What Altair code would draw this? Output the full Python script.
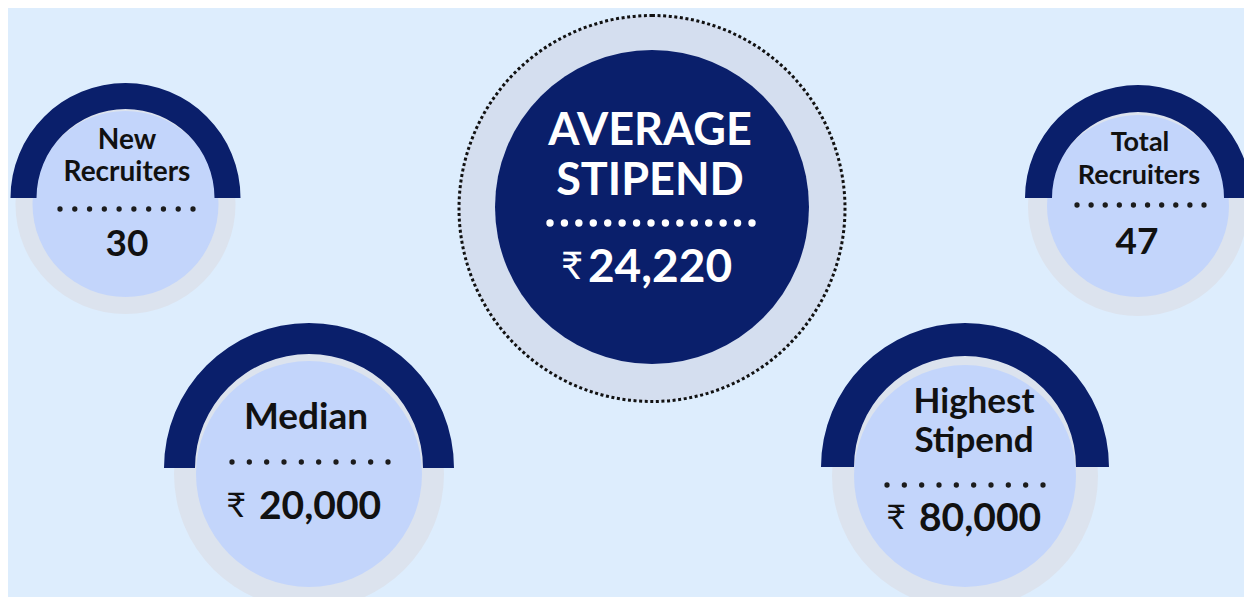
import math
import numpy as np
import pandas as pd
import altair as alt

# ---------------- data ----------------
card_titles = [["New", "Recruiters"], ["Median"], ["Highest", "Stipend"], ["Total", "Recruiters"]]
card_values = ["30", "20,000", "80,000", "47"]
card_currency = [False, True, True, False]
center_title = ["AVERAGE", "STIPEND"]
center_value = "24,220"
currency_symbol = "₹"

# ---------------- layout (pixel positions of the infographic) ----------------
W, H = 1252, 605
M = 8
NAVY = "#0a1f6b"
FILL = "#c3d5fb"
RING = "#dce3ee"
HALO = "#d4deef"
BG = "#ddedfd"
INK = "#111111"
FONT = "Lato, 'Noto Sans', 'DejaVu Sans', sans-serif"

# per card: arc centre (x, y), arc outer / inner radius, disk centre y, ring radius, fill radius
card_geo = [
    dict(cx=125.5, ay=198, ro=115, ri=89, dy=204, rg=110, rf=93),
    dict(cx=309, ay=468, ro=145, ri=114, dy=474, rg=135, rf=113),
    dict(cx=965, ay=467, ro=144, ri=111, dy=476, rg=133, rf=111),
    dict(cx=1138, ay=198, ro=113, ri=86, dy=206, rg=110, rf=91),
]
# title lines (x, y, size), dot rows (y, x0, x1), value (x, y, size), currency (right edge x)
card_title_pos = [
    [(127, 141, 28), (127, 173, 28)],
    [(306, 418, 37)],
    [(974, 402, 35), (974, 441, 35)],
    [(1140, 143, 27), (1139, 176, 27)],
]
card_dots = [(209, 60, 193), (462, 232, 388), (485, 887, 1043), (205, 1077, 1204)]
card_value_pos = [(127, 245, 37), (320, 507, 39), (980, 519, 39), (1137, 243, 37)]
card_cur_x = [None, 246, 906, None]

center = dict(cx=652, cy=207, r=157, halo_cy=208.5, halo_r=193)
center_title_pos = [(650, 131, 45), (650, 181, 45)]
center_dots = (223, 550, 752, 15)
center_value_pos = (660, 268, 46)
center_cur_x = 583

xs = alt.Scale(domain=[M, W - M], nice=False, zero=False)
ys = alt.Scale(domain=[H - M, M], nice=False, zero=False)
X = lambda: alt.X("x:Q", scale=xs, axis=None)
Y = lambda: alt.Y("y:Q", scale=ys, axis=None)

layers = []

def disk(x, y, r, color, **kw):
    d = pd.DataFrame({"x": [x], "y": [y]})
    return alt.Chart(d).mark_arc(radius=r, theta=0, theta2=2 * math.pi, fill=color, **kw).encode(x=X(), y=Y())

# centre halo with dotted edge
layers.append(disk(center["cx"], center["halo_cy"], center["halo_r"], HALO,
                   stroke="#111111", strokeWidth=3, strokeDash=[3, 2.6]))
layers.append(disk(center["cx"], center["cy"], center["r"], NAVY))

for g in card_geo:
    layers.append(disk(g["cx"], g["dy"], g["rg"], RING))
    layers.append(disk(g["cx"], g["dy"], g["rf"], FILL))
    d = pd.DataFrame({"x": [g["cx"]], "y": [g["ay"]]})
    layers.append(alt.Chart(d).mark_arc(radius=g["ro"], radius2=g["ri"],
                                        theta=1.5 * math.pi, theta2=2.5 * math.pi,
                                        fill=NAVY).encode(x=X(), y=Y()))

# dot rows
dot_rows = []
for (y, x0, x1) in card_dots:
    for x in np.linspace(x0, x1, 10):
        dot_rows.append({"x": x, "y": y})
layers.append(alt.Chart(pd.DataFrame(dot_rows)).mark_circle(size=28, color="#1c1c1c", opacity=1)
              .encode(x=X(), y=Y()))
cy_, cx0, cx1, cn = center_dots
cdots = pd.DataFrame({"x": np.linspace(cx0, cx1, cn), "y": [cy_] * cn})
layers.append(alt.Chart(cdots).mark_circle(size=55, color="white", opacity=1).encode(x=X(), y=Y()))

# texts
bold_rows = []
cur_rows = []
for lines, pos in zip(card_titles, card_title_pos):
    for t, (x, y, s) in zip(lines, pos):
        bold_rows.append({"x": x, "y": y, "t": t, "s": s, "c": INK})
for v, (x, y, s), cur, cx in zip(card_values, card_value_pos, card_currency, card_cur_x):
    bold_rows.append({"x": x, "y": y, "t": v, "s": s, "c": INK})
    if cur:
        cur_rows.append({"x": cx, "y": y, "t": currency_symbol, "s": s - 5, "c": INK})
for t, (x, y, s) in zip(center_title, center_title_pos):
    bold_rows.append({"x": x, "y": y, "t": t, "s": s, "c": "white"})
vx, vy, vs = center_value_pos
bold_rows.append({"x": vx, "y": vy, "t": center_value, "s": vs, "c": "white"})
cur_rows.append({"x": center_cur_x, "y": vy, "t": currency_symbol, "s": 38, "c": "white"})

def text_layer(rows, weight, align):
    return alt.Chart(pd.DataFrame(rows)).mark_text(
        font=FONT, fontWeight=weight, align=align, baseline="middle"
    ).encode(
        x=X(), y=Y(), text="t:N",
        size=alt.Size("s:Q", scale=None, legend=None),
        color=alt.Color("c:N", scale=None, legend=None),
    )

layers.append(text_layer(bold_rows, "bold", "center"))
layers.append(text_layer(cur_rows, "normal", "right"))

chart = alt.layer(*layers).properties(
    width=W - 2 * M, height=H - 2 * M,
    autosize=alt.AutoSizeParams(type="none"),
    padding=0, background=BG,
).configure_view(stroke=None)

chart.save("out.html", embed_options={"renderer": "svg", "actions": False})
